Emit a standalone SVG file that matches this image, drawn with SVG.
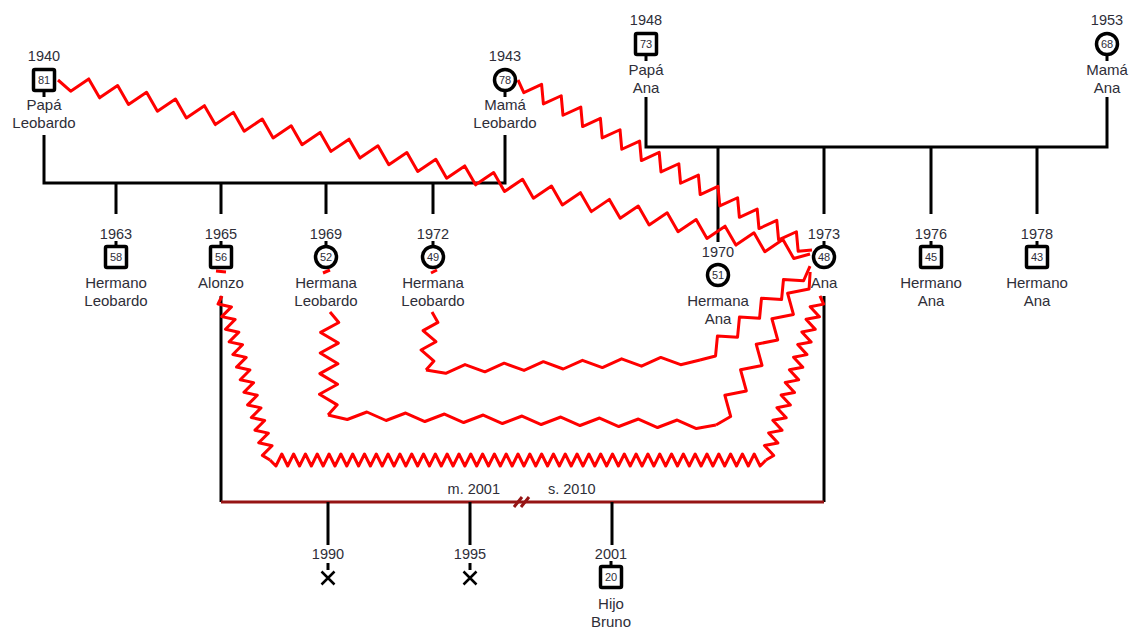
<svg xmlns="http://www.w3.org/2000/svg" width="1132" height="630" viewBox="0 0 1132 630">
<style>
.t{font-family:"Liberation Sans",Arial,sans-serif;font-size:15px;fill:#2e2e38;text-anchor:middle}
.y{font-size:14.5px}
.n{font-size:11px}
.ln{stroke:#000;stroke-width:3;fill:none}
.sym{fill:#fff;stroke:#000;stroke-width:3.5}
.z{stroke:#f00;stroke-width:3;fill:none;stroke-linejoin:round}
.m{stroke:#961414;stroke-width:3;fill:none}
.x{stroke:#000;stroke-width:2.5}
</style>
<rect width="1132" height="630" fill="#fff"/>
<g id="connectors">
<path class="ln" d="M44,135V183H505V135"/>
<path class="ln" d="M116,183V214M221,183V214M326,183V214M433,183V214"/>
<path class="ln" d="M646,97V147H1107V97"/>
<path class="ln" d="M718,147V242M824,147V214M931,147V214M1037,147V214"/>
<path class="ln" d="M221,296V502M824,296V502"/>
<path class="m" d="M221,502H824"/>
<path class="m" d="M514,507L522,497M521,507L529,497"/>
<path class="ln" d="M328,502V545M470,502V545M612,502V545"/>
<text class="t y" x="500" y="494" style="text-anchor:end">m. 2001</text>
<text class="t y" x="548" y="494" style="text-anchor:start">s. 2010</text>
<g id="zigzags">
<path class="z" transform="translate(58,80) rotate(13.03)" d="M0,0 l14.844,8
l14.844,-16 l14.844,16 l14.844,-16 l14.844,16 l14.844,-16 l14.844,16 l14.844,-16 l14.844,16 l14.844,-16 l14.844,16
l14.844,-16 l14.844,16 l14.844,-16 l14.844,16 l14.844,-16 l14.844,16 l14.844,-16 l14.844,16 l14.844,-16 l14.844,16
l14.844,-16 l14.844,16 l14.844,-16 l14.844,16 l14.844,-16 l14.844,16 l14.844,-16 l14.844,16 l14.844,-16 l14.844,16
l14.844,-16 l14.844,16 l14.844,-16 l14.844,16 l14.844,-16 l14.844,16 l14.844,-16 l14.844,16 l14.844,-16 l14.844,16
l14.844,-16 l14.844,16 l14.844,-16 l14.844,16 l14.844,-16 l14.844,16 l14.844,-16 l14.844,16 l14.844,-16 l14.844,16
l14.844,-8"/>
<path class="z" transform="translate(518,80) rotate(30.04)" d="M0,0 l11.32,8
l11.32,-16 l11.32,16 l11.32,-16 l11.32,16 l11.32,-16 l11.32,16 l11.32,-16 l11.32,16 l11.32,-16 l11.32,16
l11.32,-16 l11.32,16 l11.32,-16 l11.32,16 l11.32,-16 l11.32,16 l11.32,-16 l11.32,16 l11.32,-16 l11.32,16
l11.32,-16 l11.32,16 l11.32,-16 l11.32,16 l11.32,-16 l11.32,16 l11.32,-16 l11.32,16
l11.32,-8"/>
<path class="z" transform="translate(222,296) rotate(73.69)" d="M0,0 l6.573,6
l6.573,-12 l6.573,12 l6.573,-12 l6.573,12 l6.573,-12 l6.573,12 l6.573,-12 l6.573,12 l6.573,-12 l6.573,12
l6.573,-12 l6.573,12 l6.573,-12 l6.573,12 l6.573,-12 l6.573,12 l6.573,-12 l6.573,12 l6.573,-12 l6.573,12
l6.573,-12 l6.573,12 l6.573,-12 l6.573,12
l6.573,-6"/>
<path class="z" transform="translate(270,460)" d="M0,0 l5.905,6
l5.905,-12 l5.905,12 l5.905,-12 l5.905,12 l5.905,-12 l5.905,12 l5.905,-12 l5.905,12 l5.905,-12 l5.905,12
l5.905,-12 l5.905,12 l5.905,-12 l5.905,12 l5.905,-12 l5.905,12 l5.905,-12 l5.905,12 l5.905,-12 l5.905,12
l5.905,-12 l5.905,12 l5.905,-12 l5.905,12 l5.905,-12 l5.905,12 l5.905,-12 l5.905,12 l5.905,-12 l5.905,12
l5.905,-12 l5.905,12 l5.905,-12 l5.905,12 l5.905,-12 l5.905,12 l5.905,-12 l5.905,12 l5.905,-12 l5.905,12
l5.905,-12 l5.905,12 l5.905,-12 l5.905,12 l5.905,-12 l5.905,12 l5.905,-12 l5.905,12 l5.905,-12 l5.905,12
l5.905,-12 l5.905,12 l5.905,-12 l5.905,12 l5.905,-12 l5.905,12 l5.905,-12 l5.905,12 l5.905,-12 l5.905,12
l5.905,-12 l5.905,12 l5.905,-12 l5.905,12 l5.905,-12 l5.905,12 l5.905,-12 l5.905,12 l5.905,-12 l5.905,12
l5.905,-12 l5.905,12 l5.905,-12 l5.905,12 l5.905,-12 l5.905,12 l5.905,-12 l5.905,12 l5.905,-12 l5.905,12
l5.905,-12 l5.905,12
l5.905,-6"/>
<path class="z" transform="translate(766,460) rotate(-71.78)" d="M0,0 l6.642,6
l6.642,-12 l6.642,12 l6.642,-12 l6.642,12 l6.642,-12 l6.642,12 l6.642,-12 l6.642,12 l6.642,-12 l6.642,12
l6.642,-12 l6.642,12 l6.642,-12 l6.642,12 l6.642,-12 l6.642,12 l6.642,-12 l6.642,12 l6.642,-12 l6.642,12
l6.642,-12 l6.642,12 l6.642,-12 l6.642,12
l6.642,-6"/>
<path class="z" transform="translate(330,312) rotate(91.1)" d="M0,0 l10.3,-9 l10.3,18 l10.3,-18 l10.3,18 l10.3,-18 l10.3,18 l10.3,-18 l10.3,18 l10.3,-18 l10.3,9"/>
<path class="z" transform="translate(328,415) rotate(1.48)" d="M0,0 l19.4,4
l19.4,-8 l19.4,8 l19.4,-8 l19.4,8 l19.4,-8 l19.4,8 l19.4,-8 l19.4,8 l19.4,-8 l19.4,8
l19.4,-8 l19.4,8 l19.4,-8 l19.4,8 l19.4,-8 l19.4,8 l19.4,-8 l19.4,8
l19.4,-4"/>
<path class="z" transform="translate(716,425) rotate(-58.4)" d="M0,0 l14.97,8 l14.97,-16 l14.97,16 l14.97,-16 l14.97,16 l14.97,-16 l14.97,16 l14.97,-16 l14.97,16 l14.97,-16 l14.97,16 l14.97,-8"/>
<path class="z" transform="translate(432,312) rotate(95.9)" d="M0,0 l9.72,-7 l9.72,14 l9.72,-14 l9.72,14 l9.72,-14 l9.72,7"/>
<path class="z" transform="translate(426,370) rotate(-2.09)" d="M0,0 l19.59,4
l19.59,-8 l19.59,8 l19.59,-8 l19.59,8 l19.59,-8 l19.59,8 l19.59,-8 l19.59,8 l19.59,-8 l19.59,8
l19.59,-8 l19.59,8
l19.59,-4"/>
<path class="z" transform="translate(700,360) rotate(-40.5)" d="M0,0 l14.47,7 l14.47,-14 l14.47,14 l14.47,-14 l14.47,14 l14.47,-14 l14.47,14 l14.47,-14 l14.47,14 l14.47,-7"/>
<path class="z" d="M216,271L226,272M323,273L330,270M431,273L437,270"/>
</g>
</g>
<g id="papa-leobardo">
<text class="t y" x="44" y="61">1940</text>
<line class="ln" x1="44" y1="91" x2="44" y2="97"/>
<rect class="sym" x="33.5" y="69.5" width="21" height="21" rx="1.5"/>
<text class="t n" x="44" y="84">81</text>
<text class="t" x="44" y="110">Papá</text>
<text class="t" x="44" y="128">Leobardo</text>
</g>
<g id="mama-leobardo">
<text class="t y" x="505" y="61">1943</text>
<line class="ln" x1="505" y1="91" x2="505" y2="97"/>
<circle class="sym" cx="505" cy="80" r="10.5"/>
<text class="t n" x="505" y="84">78</text>
<text class="t" x="505" y="110">Mamá</text>
<text class="t" x="505" y="128">Leobardo</text>
</g>
<g id="papa-ana">
<text class="t y" x="646" y="25">1948</text>
<line class="ln" x1="646" y1="55" x2="646" y2="61"/>
<rect class="sym" x="635.5" y="33.5" width="21" height="21" rx="1.5"/>
<text class="t n" x="646" y="48">73</text>
<text class="t" x="646" y="75">Papá</text>
<text class="t" x="646" y="93">Ana</text>
</g>
<g id="mama-ana">
<text class="t y" x="1107" y="25">1953</text>
<line class="ln" x1="1107" y1="55" x2="1107" y2="61"/>
<circle class="sym" cx="1107" cy="44" r="10.5"/>
<text class="t n" x="1107" y="48">68</text>
<text class="t" x="1107" y="75">Mamá</text>
<text class="t" x="1107" y="93">Ana</text>
</g>
<g id="hermano-leobardo">
<text class="t y" x="116" y="239">1963</text>
<line class="ln" x1="116" y1="241" x2="116" y2="247"/>
<rect class="sym" x="105.5" y="246.5" width="21" height="21" rx="1.5"/>
<text class="t n" x="116" y="261">58</text>
<text class="t" x="116" y="288">Hermano</text>
<text class="t" x="116" y="306">Leobardo</text>
</g>
<g id="alonzo">
<text class="t y" x="221" y="239">1965</text>
<line class="ln" x1="221" y1="241" x2="221" y2="247"/>
<rect class="sym" x="210.5" y="246.5" width="21" height="21" rx="1.5"/>
<text class="t n" x="221" y="261">56</text>
<text class="t" x="221" y="288">Alonzo</text>
</g>
<g id="hermana-leobardo-1969">
<text class="t y" x="326" y="239">1969</text>
<line class="ln" x1="326" y1="241" x2="326" y2="247"/>
<circle class="sym" cx="326" cy="257" r="10.5"/>
<text class="t n" x="326" y="261">52</text>
<text class="t" x="326" y="288">Hermana</text>
<text class="t" x="326" y="306">Leobardo</text>
</g>
<g id="hermana-leobardo-1972">
<text class="t y" x="433" y="239">1972</text>
<line class="ln" x1="433" y1="241" x2="433" y2="247"/>
<circle class="sym" cx="433" cy="257" r="10.5"/>
<text class="t n" x="433" y="261">49</text>
<text class="t" x="433" y="288">Hermana</text>
<text class="t" x="433" y="306">Leobardo</text>
</g>
<g id="hermana-ana">
<text class="t y" x="718" y="257">1970</text>
<circle class="sym" cx="718" cy="275" r="10.5"/>
<text class="t n" x="718" y="279">51</text>
<text class="t" x="718" y="306">Hermana</text>
<text class="t" x="718" y="324">Ana</text>
</g>
<g id="ana">
<text class="t y" x="824" y="239">1973</text>
<line class="ln" x1="824" y1="241" x2="824" y2="247"/>
<circle class="sym" cx="824" cy="257" r="10.5"/>
<text class="t n" x="824" y="261">48</text>
<text class="t" x="824" y="288">Ana</text>
</g>
<g id="hermano-ana-1976">
<text class="t y" x="931" y="239">1976</text>
<line class="ln" x1="931" y1="241" x2="931" y2="247"/>
<rect class="sym" x="920.5" y="246.5" width="21" height="21" rx="1.5"/>
<text class="t n" x="931" y="261">45</text>
<text class="t" x="931" y="288">Hermano</text>
<text class="t" x="931" y="306">Ana</text>
</g>
<g id="hermano-ana-1978">
<text class="t y" x="1037" y="239">1978</text>
<line class="ln" x1="1037" y1="241" x2="1037" y2="247"/>
<rect class="sym" x="1026.5" y="246.5" width="21" height="21" rx="1.5"/>
<text class="t n" x="1037" y="261">43</text>
<text class="t" x="1037" y="288">Hermano</text>
<text class="t" x="1037" y="306">Ana</text>
</g>
<g id="child-1990">
<text class="t y" x="328" y="559">1990</text>
<line class="ln" x1="328" y1="563" x2="328" y2="570"/>
<path class="x" d="M321.5,571.5L334.5,584.5M334.5,571.5L321.5,584.5"/>
</g>
<g id="child-1995">
<text class="t y" x="470" y="559">1995</text>
<line class="ln" x1="470" y1="563" x2="470" y2="570"/>
<path class="x" d="M463.5,571.5L476.5,584.5M476.5,571.5L463.5,584.5"/>
</g>
<g id="hijo-bruno">
<text class="t y" x="611" y="559">2001</text>
<line class="ln" x1="611" y1="561" x2="611" y2="567"/>
<rect class="sym" x="600.5" y="566.5" width="21" height="21" rx="1.5"/>
<text class="t n" x="611" y="581">20</text>
<text class="t" x="611" y="609">Hijo</text>
<text class="t" x="611" y="627">Bruno</text>
</g>
</svg>
